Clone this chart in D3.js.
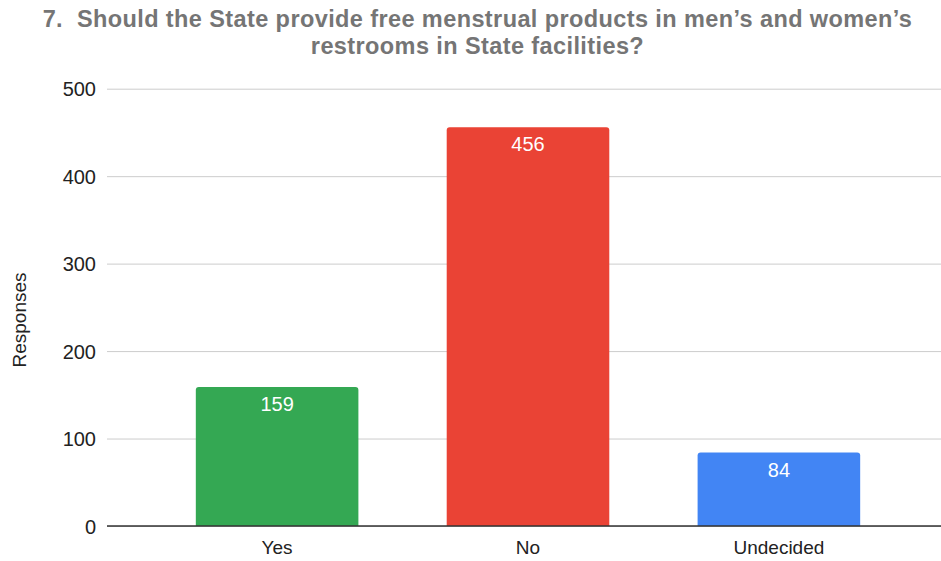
<!DOCTYPE html>
<html>
<head>
<meta charset="utf-8">
<script src="https://cdn.jsdelivr.net/npm/d3@7/dist/d3.min.js"></script>
<style>
  body { margin: 0; background: #fff; }
  svg { font-family: Arial, "Liberation Sans", sans-serif; }
  .tick text { fill: #222; }
  .axis__y .tick text { font-size: 20px; }
  .axis__x .tick text { font-size: 19px; }
  .title { font-size: 23.5px; font-weight: bold; fill: #757575; white-space: pre; letter-spacing: 0.4px; }
</style>
</head>
<body>
<div id="chart"></div>
<script>
'use strict';

var categories = [ 'Yes', 'No', 'Undecided' ];
var responses = [ 159, 456, 84 ];
var barColors = [ '#34a853', '#ea4335', '#4285f4' ];
var yTicks = [ 0, 100, 200, 300, 400, 500 ];
var titleLines = [
  '7.  Should the State provide free menstrual products in men\u2019s and women\u2019s',
  'restrooms in State facilities?'
];

var width = 941, height = 561;
var plot = { left: 107, right: 941, top: 88.7, bottom: 526 };

var svg = d3.select( '#chart' )
  .append( 'svg' )
    .attr( 'width', width )
    .attr( 'height', height );

// band range runs a bit past the gridlines, like the original layout
var x = d3.scaleBand()
    .domain( categories )
    .range( [ plot.left, 949 ] )
    .paddingInner( 0.352 )
    .paddingOuter( 0.354 );

var y = d3.scaleLinear()
    .domain( [ 0, 500 ] )
    .range( [ plot.bottom, plot.top ] );

// gridlines + y labels
svg.append( 'g' )
  .classed( 'axis axis__y', true )
  .attr( 'transform', 'translate(' + plot.left + ',0)' )
  .call( d3.axisLeft( y )
    .tickValues( yTicks )
    .tickSize( -( plot.right - plot.left ) )
    .tickPadding( 11 )
  )
  .call( function( g ) {
    g.select( '.domain' ).remove();
    g.selectAll( '.tick line' ).attr( 'stroke', '#cccccc' );
    g.selectAll( '.tick text' ).attr( 'dy', '0.36em' );
  } );

// bars with rounded top corners
function barPath( x0, w, yTop, yBot, r ) {
  return 'M' + x0 + ',' + yBot +
    'V' + ( yTop + r ) +
    'Q' + x0 + ',' + yTop + ' ' + ( x0 + r ) + ',' + yTop +
    'H' + ( x0 + w - r ) +
    'Q' + ( x0 + w ) + ',' + yTop + ' ' + ( x0 + w ) + ',' + ( yTop + r ) +
    'V' + yBot + 'Z';
}

svg.append( 'g' )
  .selectAll( 'path' )
  .data( responses )
  .join( 'path' )
    .attr( 'd', function( d, i ) {
      return barPath( x( categories[i] ), x.bandwidth(), y( d ), y( 0 ), 3 );
    } )
    .attr( 'fill', function( d, i ) { return barColors[i]; } );

// value labels
svg.append( 'g' )
  .selectAll( 'text' )
  .data( responses )
  .join( 'text' )
    .attr( 'x', function( d, i ) { return x( categories[i] ) + x.bandwidth() / 2; } )
    .attr( 'y', function( d ) { return y( d ) + 24; } )
    .attr( 'text-anchor', 'middle' )
    .attr( 'fill', '#ffffff' )
    .style( 'font-size', '20px' )
    .text( function( d ) { return d; } );

// x axis baseline + category labels
svg.append( 'g' )
  .classed( 'axis axis__x', true )
  .attr( 'transform', 'translate(0,' + plot.bottom + ')' )
  .call( d3.axisBottom( x ).tickSize( 0 ).tickPadding( 15 ) )
  .call( function( g ) {
    g.select( '.domain' )
      .attr( 'd', 'M' + plot.left + ',0H' + plot.right )
      .attr( 'stroke', '#333333' )
      .attr( 'stroke-width', 1.3 );
    g.selectAll( '.tick text' ).attr( 'dy', '0.71em' );
  } );

// y axis title
svg.append( 'text' )
  .attr( 'transform', 'translate(26,320) rotate(-90)' )
  .attr( 'text-anchor', 'middle' )
  .attr( 'fill', '#222' )
  .style( 'font-size', '19px' )
  .text( 'Responses' );

// title
svg.append( 'g' )
  .selectAll( 'text' )
  .data( titleLines )
  .join( 'text' )
    .classed( 'title', true )
    .attr( 'x', 477.5 )
    .attr( 'y', function( d, i ) { return 27.2 + i * 26.4; } )
    .attr( 'text-anchor', 'middle' )
    .text( function( d ) { return d; } );
</script>
</body>
</html>
